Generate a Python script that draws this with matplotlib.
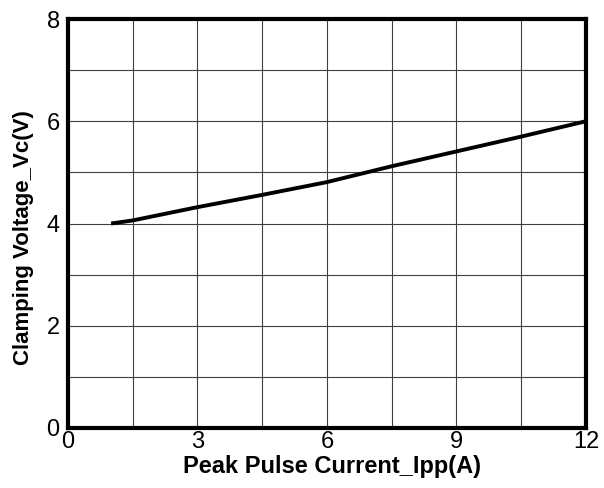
import matplotlib
matplotlib.use('Agg')
import matplotlib.pyplot as plt
from matplotlib.ticker import MultipleLocator

# clamping voltage vs peak pulse current
ipp = [1, 1.5, 3, 4.5, 6, 7.5, 9, 10.5, 12]
vc = [4.0, 4.06, 4.32, 4.56, 4.81, 5.12, 5.41, 5.70, 6.0]

x_ticks = [0, 3, 6, 9, 12]
y_ticks = [0, 2, 4, 6, 8]

plt.rcParams['font.family'] = ['Liberation Sans', 'DejaVu Sans']

fig = plt.figure(figsize=(6.04, 4.88), dpi=100)
ax = fig.add_axes([0.1126, 0.123, 0.8574, 0.838])

ax.plot(ipp, vc, color='black', linewidth=2.8, solid_capstyle='butt')

ax.set_xlim(0, 12)
ax.set_ylim(0, 8)
ax.set_xticks(x_ticks)
ax.set_yticks(y_ticks)
ax.xaxis.set_minor_locator(MultipleLocator(1.5))
ax.yaxis.set_minor_locator(MultipleLocator(1))
ax.grid(which='both', color='#404040', linewidth=0.8)
ax.set_axisbelow(True)
ax.tick_params(which='both', length=0, labelsize=17)
ax.tick_params(axis='y', pad=6)
ax.tick_params(axis='x', pad=2)

for sp in ax.spines.values():
    sp.set_linewidth(3)

ax.set_xlabel('Peak Pulse Current_Ipp(A)', fontsize=17, fontweight='bold')
ax.set_ylabel('Clamping Voltage_Vc(V)', fontsize=16, fontweight='bold')
ax.xaxis.set_label_coords(0.51, -0.066)
ax.yaxis.set_label_coords(-0.066, 0.465)

plt.savefig('out.png', dpi=100)
